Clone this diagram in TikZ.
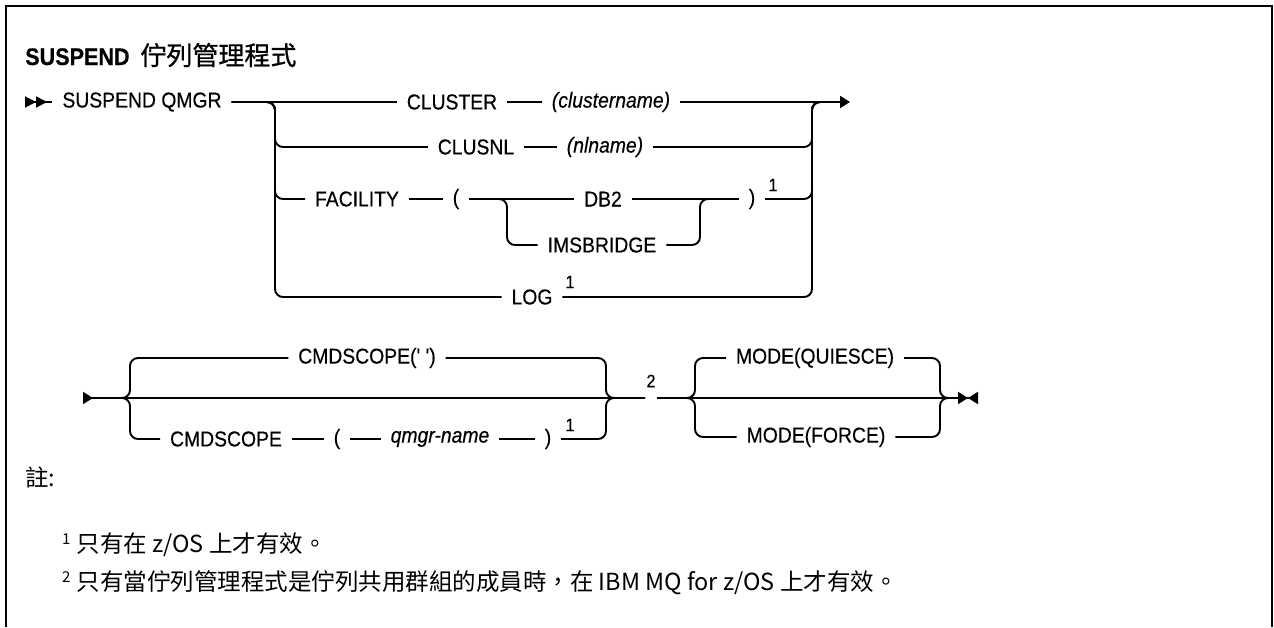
\documentclass[tikz,border=0pt]{standalone}
\usepackage{fontspec}
\setmainfont{Liberation Sans}
\newfontfamily\railfont[FakeStretch=0.9, FakeBold=0.4]{Liberation Sans}
\newfontfamily\cjk{Noto Sans CJK TC}
\newfontfamily\cjkhead[FakeBold=0.8]{Noto Sans CJK TC}
\usepackage{tikz}
\usetikzlibrary{arrows.meta, positioning}

\begin{document}
\begin{tikzpicture}[x=1pt, y=-1pt]
  \tikzstyle{kw} = [font=\railfont\fontsize{21.5}{24}\selectfont, inner xsep=10pt, inner ysep=2pt, outer sep=0pt]
  \tikzstyle{var} = [kw, font=\railfont\fontsize{21.5}{24}\selectfont\itshape]
  \tikzstyle{sup} = [font=\railfont\fontsize{18}{18}\selectfont, inner sep=0pt]
  \tikzstyle{rail} = [line width=1.9pt, rounded corners=8pt]
  \tikzstyle{note} = [font=\cjk\fontsize{23.5}{26}\selectfont, anchor=base west, inner sep=0pt]

  \useasboundingbox (0,0) rectangle (1274,627);
  \draw[line width=2.7pt] (6,627) -- (6,6) -- (1272,6) -- (1272,627);

  \node[anchor=base west, inner sep=0pt, font=\railfont\fontsize{24}{28}\selectfont\bfseries] (title) at (25,65)
    {SUSPEND\hspace{0.45em}{\cjkhead\mdseries\fontsize{26}{28}\selectfont 佇列管理程式}};

  % first rail
  \coordinate (start1) at (25,102);
  \coordinate (brL) at (275,102);
  \coordinate (brR) at (812,102);
  \coordinate (joinR) at (830,102);
  \coordinate (endA) at (850,102);
  \coordinate (ibL) at (507,199);
  \coordinate (ibR) at (700,199);

  \node[kw] (cmd) at (142,102) {SUSPEND QMGR};
  \node[kw] (cluster) at (452,102) {CLUSTER};
  \node[var] (clname) at (611,102) {(clustername)};
  \node[kw] (clusnl) at (476,147) {CLUSNL};
  \node[var] (nlname) at (605,147) {(nlname)};
  \node[kw] (facility) at (357,199) {FACILITY};
  \node[kw] (lpar) at (456,199) {(};
  \node[kw] (db2) at (603,199) {DB2};
  \node[kw] (imsb) at (602,245) {IMSBRIDGE};
  \node[kw] (rpar) at (752,199) {)};
  \node[sup] (sf) at (773,185) {1};
  \node[kw] (log) at (532,297) {LOG};
  \node[sup] (sl) at (570,282) {1};

  \draw[rail, {Triangle[length=11pt, width=11pt, reversed] Triangle[length=11pt, width=11pt, reversed]}-] (start1) -- (cmd);
  \draw[rail] (cmd) -- (cluster);
  \draw[rail] (cluster) -- (clname);
  \draw[rail, -{Triangle[length=10pt, width=12pt]}] (clname) -- (endA);
  \draw[rail] (cmd.east) -- (brL) |- (clusnl.west);
  \draw[rail] (clusnl) -- (nlname);
  \draw[rail] (nlname.east) -| (brR) -- (joinR);
  \draw[rail] (cmd.east) -- (brL) |- (facility.west);
  \draw[rail] (facility) -- (lpar);
  \draw[rail] (lpar) -- (db2);
  \draw[rail] (lpar.east) -- (ibL) |- (imsb.west);
  \draw[rail] (db2) -- (rpar);
  \draw[rail] (imsb.east) -| (ibR) -- (rpar.west);
  \draw[rail] (rpar.east) -| (brR) -- (joinR);
  \draw[rail] (cmd.east) -- (brL) |- (log.west);
  \draw[rail] (log.east) -| (brR) -- (joinR);

  % second rail
  \coordinate (start2) at (83,398);
  \coordinate (lbL) at (130,398);
  \coordinate (rbR) at (606,398);
  \coordinate (g2a) at (645,398);
  \coordinate (g2b) at (657,398);
  \coordinate (mlL) at (695,398);
  \coordinate (mrR) at (940,398);
  \coordinate (joinR2) at (950,398);
  \coordinate (stop) at (978,398);

  \node[kw] (cmdq) at (367,358) {CMDSCOPE(' ')};
  \node[kw] (cmds) at (226,439) {CMDSCOPE};
  \node[kw] (lpar2) at (337,439) {(};
  \node[var] (qmgr) at (440,439) {qmgr-name};
  \node[kw] (rpar2) at (548,439) {)};
  \node[sup] (sq) at (570,425) {1};
  \node[sup] (s2) at (651,381) {2};
  \node[kw] (quiesce) at (815,358) {MODE(QUIESCE)};
  \node[kw] (force) at (816,437) {MODE(FORCE)};

  \draw[rail, {Triangle[length=10pt, width=12pt, reversed]}-] (start2) -- (g2a);
  \draw[rail] (start2) -- (lbL) |- (cmdq.west);
  \draw[rail] (cmdq.east) -| (rbR) -- (g2a);
  \draw[rail] (start2) -- (lbL) |- (cmds.west);
  \draw[rail] (cmds) -- (lpar2);
  \draw[rail] (lpar2) -- (qmgr);
  \draw[rail] (qmgr) -- (rpar2);
  \draw[rail] (rpar2.east) -| (rbR) -- (g2a);
  \draw[rail, -{Triangle[length=10pt, width=12pt] Triangle[length=10pt, width=12pt, reversed]}] (g2b) -- (stop);
  \draw[rail] (g2b) -- (mlL) |- (quiesce.west);
  \draw[rail] (quiesce.east) -| (mrR) -- (joinR2);
  \draw[rail] (g2b) -- (mlL) |- (force.west);
  \draw[rail] (force.east) -| (mrR) -- (joinR2);

  % notes
  \node[note] (notes) at (25,486) {註:};
  \node[note] (note1) at (62,552) {{\fontsize{15}{15}\selectfont\raisebox{0.5em}{1}}\hspace{6pt}只有在 z/OS 上才有效。};
  \node[note] (note2) at (62,590) {{\fontsize{15}{15}\selectfont\raisebox{0.5em}{2}}\hspace{6pt}只有當佇列管理程式是佇列共用群組的成員時，在 IBM MQ for z/OS 上才有效。};
\end{tikzpicture}
\end{document}
